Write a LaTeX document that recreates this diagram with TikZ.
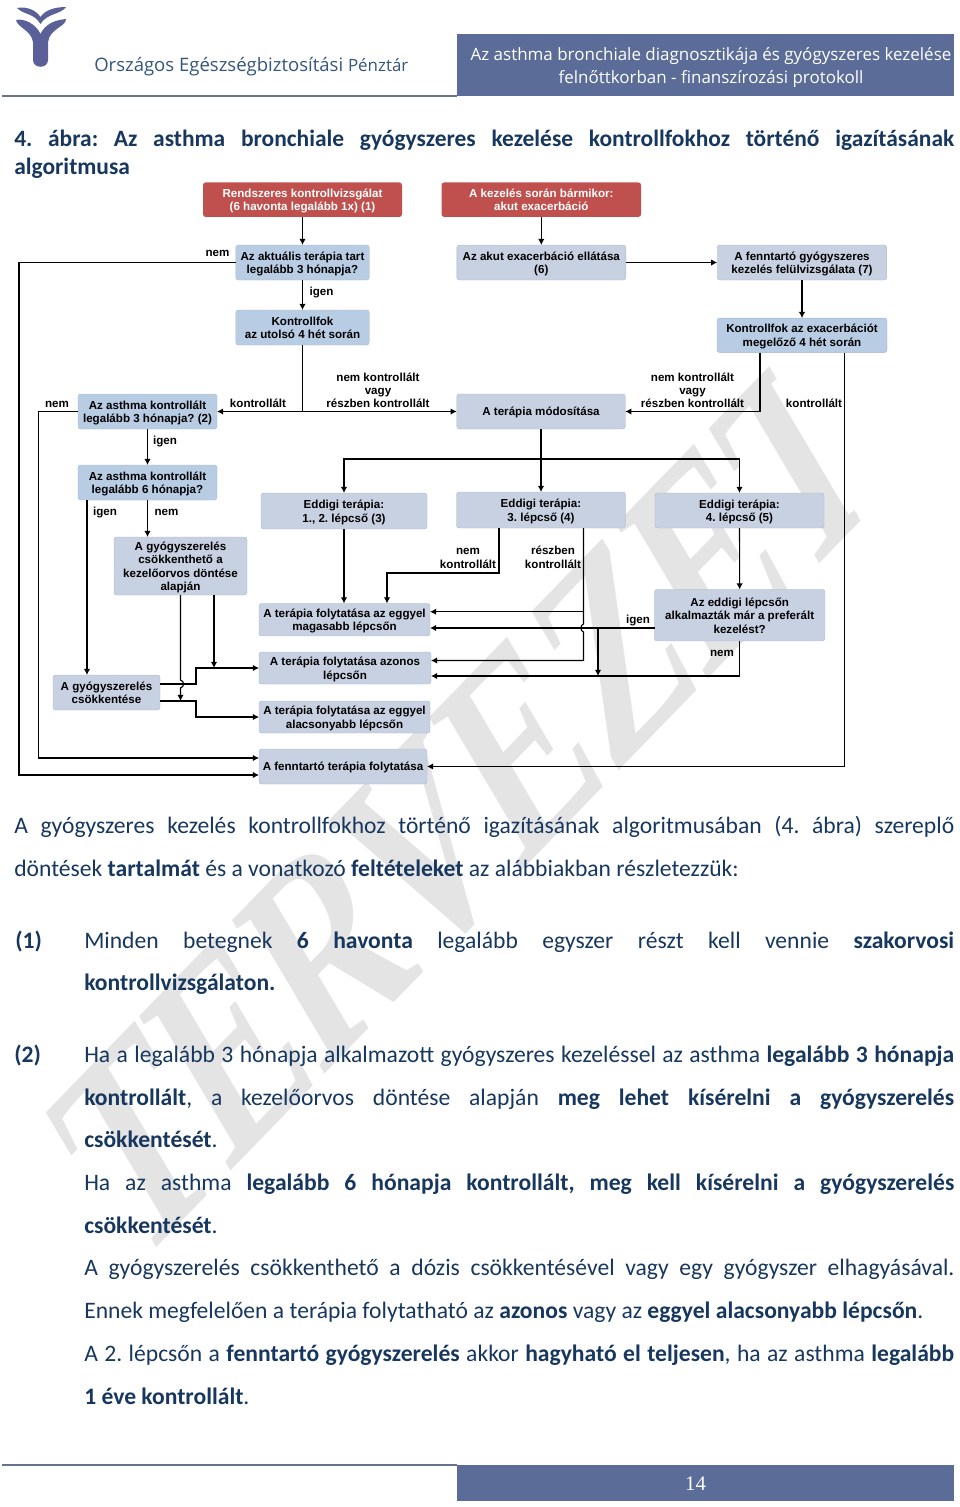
\documentclass[tikz,border=0pt]{standalone}
\usepackage{fontspec}
\setmainfont{Carlito}
\newfontfamily\flowfont{Liberation Sans}
\newfontfamily\headfont{Open Sans}
\newfontfamily\markfont{Liberation Serif}
\usepackage{xcolor}
\usetikzlibrary{arrows.meta,positioning}
\definecolor{redbox}{HTML}{C0504D}
\definecolor{bluebox}{HTML}{B8CCE4}
\definecolor{greybox}{HTML}{C8D1E2}
\definecolor{edgebox}{HTML}{A9B7CE}
\definecolor{navy}{HTML}{17375E}
\definecolor{orgblue}{HTML}{34557F}
\definecolor{banner}{HTML}{5A6C97}
\definecolor{logoblue}{HTML}{5C6099}
\definecolor{markgrey}{HTML}{E4E4E4}
\newcommand{\jline}[2]{\makebox[\dimexpr #1pt*3/4\relax][s]{#2}}
\newcommand{\ts}{\rule{0pt}{9.1pt}}
\frenchspacing
\tikzset{
  size/.style 2 args={minimum width=#1*0.75pt, minimum height=#2*0.75pt},
  flow/.style={rounded corners=2pt, align=center, inner sep=0pt, outer sep=0pt, text=black,
    font=\flowfont\bfseries\fontsize{8.7}{10.1}\selectfont,
    execute at begin node={\rule{0pt}{8.7pt}}, execute at end node={\rule[-2.5pt]{0pt}{2.5pt}}},
  redstep/.style={flow, fill=redbox, text=white},
  bluestep/.style={flow, fill=bluebox, draw=edgebox, line width=0.3pt},
  greystep/.style={flow, fill=greybox, draw=edgebox, line width=0.3pt},
  tag/.style={align=center, inner sep=0pt, font=\flowfont\bfseries\fontsize{8.7}{10}\selectfont,
    execute at begin node={\rule{0pt}{9.7pt}}, execute at end node={\rule[-2.5pt]{0pt}{2.5pt}}},
  line/.style={-{Latex[length=4.6pt,width=4.8pt]}, line width=0.85pt},
  textline/.style={anchor=base west, inner sep=0pt, text=navy, font=\fontsize{17.7}{20}\selectfont}
}
\begin{document}
\begin{tikzpicture}[x=0.75pt, y=-0.75pt]
\useasboundingbox (0,0) rectangle (960,1507);

% watermark
\begin{scope}[x=0.75pt, y=0.75pt, cm={.788,.813,-.616,1.04,(135,-1270)}]
\clip (-20,-60) rectangle (921,300);
\node (mark) [transform shape, text=markgrey, inner sep=0pt, anchor=base west] at (0,0)
  {\scalebox{0.783}[1]{\markfont\bfseries\fontsize{170}{170}\selectfont TERVEZET}};
\end{scope}

% header
\fill[logoblue] (16,20) .. controls (24,18) and (36,24) .. (40.5,34) .. controls (45,24) and (55,20) .. (66,19)
  .. controls (66,27) and (50,28) .. (48,42) -- (48,60) .. controls (48,69) and (33,69) .. (33,60) -- (33,42)
  .. controls (31,30) and (18,28) .. (16,20) -- cycle;
\fill[logoblue] (17,8) .. controls (26,6) and (36,10) .. (40.5,17) .. controls (45,10) and (55,7) .. (66,7)
  .. controls (60,15) and (47,13) .. (40.5,24) .. controls (34,13) and (24,15) .. (17,8) -- cycle;
\node (orgname) [anchor=base west, inner sep=0pt, text=orgblue, font=\headfont\fontsize{13.9}{15}\selectfont] at (94,71.5)
  {Országos Egészségbiztosítási {\fontsize{12.7}{15}\selectfont Pénztár}};
\fill[banner] (457,34) rectangle (954,96);
\draw[banner!70!gray, line width=0.8pt] (2,96) -- (457,96);
\node (doctitle) [align=center, inner sep=0pt, text=white, font=\headfont\fontsize{12.73}{17.4}\selectfont] at (711,67.5)
  {Az asthma bronchiale diagnosztikája és gyógyszeres kezelése\\felnőttkorban - finanszírozási protokoll};

% title
\node (title1) [textline, font=\bfseries\fontsize{17.6}{20}\selectfont] at (14,146)
  {\jline{940}{4. ábra: Az asthma bronchiale gyógyszeres kezelése kontrollfokhoz történő igazításának}};
\node (title2) [textline, font=\bfseries\fontsize{17.6}{20}\selectfont] at (14,174.5) {algoritmusa};

% flowchart boxes
\node (rendszeres) [redstep, size={199}{34.5}] at (302.5,199.7) {\ts Rendszeres kontrollvizsgálat\\(6 havonta legalább 1x) (1)};
\node (akut) [redstep, size={199.5}{34.5}] at (541.3,199.7) {\ts A kezelés során bármikor:\\akut exacerbáció};
\node (aktualis) [bluestep, size={133.5}{35}] at (302.5,262.5) {\ts Az aktuális terápia tart\\legalább 3 hónapja?};
\node (kontrollfok) [bluestep, size={133.5}{35}] at (302.5,327.5) {\ts Kontrollfok\\az utolsó 4 hét során};
\node (ellatas) [greystep, size={169}{35}] at (541.3,262.5) {\ts Az akut exacerbáció ellátása\\(6)};
\node (felulvizsg) [greystep, size={169.5}{35}] at (802,262.5) {\ts A fenntartó gyógyszeres\\kezelés felülvizsgálata (7)};
\node (kontrollexac) [bluestep, size={170}{34.5}] at (802,335.3) {\ts Kontrollfok az exacerbációt\\megelőző 4 hét során};
\node (asthmaharom) [bluestep, size={139}{35}] at (147.5,411.5) {\ts Az asthma kontrollált\\legalább 3 hónapja? (2)};
\node (modositas) [greystep, size={168.5}{35}] at (541,411.5) {A terápia módosítása};
\node (asthmahat) [bluestep, size={139}{35}] at (147.5,482.5) {\ts Az asthma kontrollált\\legalább 6 hónapja?};
\node (eddig1) [greystep, size={166}{36}] at (344,511) {\ts Eddigi terápia:\\1., 2. lépcső (3)};
\node (eddig2) [greystep, size={169}{36}] at (541,510) {\ts Eddigi terápia:\\3. lépcső (4)};
\node (eddig3) [greystep, size={169}{35}] at (739.5,510.5) {\ts Eddigi terápia:\\4. lépcső (5)};
\node (csokkentheto) [greystep, size={133}{58}] at (180.5,566) {\ts A gyógyszerelés\\csökkenthető a\\kezelőorvos döntése\\alapján};
\node (preferalt) [greystep, size={170.5}{51.5}] at (739.7,615.2) {\ts Az eddigi lépcsőn\\alkalmazták már a preferált\\kezelést?};
\node (magasabb) [greystep, size={171}{32.5}] at (344.5,619.7) {\ts A terápia folytatása az eggyel\\magasabb lépcsőn};
\node (azonos) [greystep, size={172}{32}] at (345,668) {\ts A terápia folytatása azonos\\lépcsőn};
\node (gycsokk) [greystep, size={107}{35}] at (106.5,692.5) {\ts A gyógyszerelés\\csökkentése};
\node (alacsonyabb) [greystep, size={171}{32}] at (344.5,717) {\ts A terápia folytatása az eggyel\\alacsonyabb lépcsőn};
\node (fenntarto) [greystep, size={168}{35}] at (343,766.5) {A fenntartó terápia folytatása};

% labels
\node (tnem1) [tag] at (217.5,252) {nem};
\node (tigen1) [tag] at (321.5,291) {igen};
\node (tnem2) [tag] at (57,403) {nem};
\node (tkontr1) [tag] at (258,403) {kontrollált};
\node (tvagy1) [tag] at (378,390) {\ts nem kontrollált\\vagy\\részben kontrollált};
\node (tvagy2) [tag] at (692.5,390) {\ts nem kontrollált\\vagy\\részben kontrollált};
\node (tkontr2) [tag] at (814,403) {kontrollált};
\node (tigen2) [tag] at (165,440) {igen};
\node (tigen3) [tag] at (105,511) {igen};
\node (tnem3) [tag] at (166.5,511) {nem};
\node (tnemk) [tag] at (468,557) {\ts nem\\kontrollált};
\node (tresz) [tag] at (553,557) {\ts részben\\kontrollált};
\node (tigen4) [tag] at (638,618.5) {igen};
\node (tnem4) [tag] at (722,651.5) {nem};

% free ends
\coordinate (exacnem) at (760,352.5);
\coordinate (exackontr) at (844.5,352.5);
\coordinate (farleft) at (19,775);
\coordinate (nearleft) at (38.5,758);
\coordinate (hatigen) at (87,500);
\coordinate (gyfelso) at (160,684);
\coordinate (gyalso) at (160,701);
\coordinate (csokkjobb) at (214,595);
\coordinate (osztas) at (541,459);
\coordinate (nemkontr) at (499,528);
\coordinate (magfelul) at (387,603.5);
\coordinate (reszben) at (583.5,528);
\coordinate (magjobb) at (430,611.7);
\coordinate (azjobb) at (431,660.5);
\coordinate (prefigen) at (654.5,628);
\coordinate (magalso) at (430,628);
\coordinate (agazas) at (598,628);
\coordinate (azalso) at (431,676);

% connectors
\draw[line] (rendszeres) -- (aktualis);
\draw[line] (aktualis) -- (kontrollfok);
\draw[line] (akut) -- (ellatas);
\draw[line] (ellatas) -- (felulvizsg);
\draw[line] (felulvizsg) -- (kontrollexac);
\draw[line] (kontrollfok.south) |- (asthmaharom.east);
\draw[line] (kontrollfok.south) |- (modositas.west);
\draw[line] (exacnem) |- (modositas.east);
\draw[line] (exackontr) |- (fenntarto.east);
\draw[line] (aktualis.west) -| (farleft) -- (farleft -| fenntarto.west);
\draw[line] (asthmaharom.west) -| (nearleft) -- (nearleft -| fenntarto.west);
\draw[line] (asthmaharom) -- (asthmahat);
\draw[line] (asthmahat.south) -- (asthmahat.south |- csokkentheto.north);
\draw[line] (hatigen) -- (hatigen |- gycsokk.north);
\draw[line] (gyfelso) -- ++(36,0) |- (azonos.west);
\draw[line] (gyalso) -- ++(36,0) |- (alacsonyabb.west);
\draw[line] (csokkjobb) -- (csokkjobb |- azonos.west);
\draw[line] (csokkentheto.south) -- (180.5,680) .. controls (184.5,681) and (184.5,687) .. (180.5,688) -- (csokkentheto.south |- gyalso);
\draw[line] (eddig1.south) -- (eddig1.south |- magasabb.north);
\draw[line] (modositas.south) -- (eddig2.north);
\draw[line] (osztas) -| (eddig1.north);
\draw[line] (osztas) -| (eddig3.north);
\draw[line] (nemkontr) -- ++(0,45) -| (magfelul);
\draw[line] (reszben) -- (583.5,624) .. controls (580,625) and (580,631) .. (583.5,632) -- (583.5,660.5) -- (azjobb);
\draw[line] (reszben |- magjobb) -- (magjobb);
\draw[line] (prefigen) -- (magalso);
\draw[line] (agazas) -- (agazas |- azalso);
\draw[line] (preferalt.south) |- (azalso);
\draw[line] (eddig3) -- (preferalt);

% text below the chart
\node (sor1) [textline] at (14,833) {\jline{940}{A gyógyszeres kezelés kontrollfokhoz történő igazításának algoritmusában (4. ábra) szereplő}};
\node (sor2) [textline] at (14,876) {döntések \textbf{tartalmát} és a vonatkozó \textbf{feltételeket} az alábbiakban részletezzük:};
\node (num1) [textline] at (15,948) {\textbf{(1)}};
\node (sor3) [textline] at (84,948) {\jline{870}{Minden betegnek \textbf{6 havonta} legalább egyszer részt kell vennie \textbf{szakorvosi}}};
\node (sor4) [textline] at (84,990.5) {\textbf{kontrollvizsgálaton.}};
\node (num2) [textline] at (14,1062.5) {\textbf{(2)}};
\node (sor5) [textline] at (84,1062.5) {\jline{870}{Ha a legalább 3 hónapja alkalmazott gyógyszeres kezeléssel az asthma \textbf{legalább 3 hónapja}}};
\node (sor6) [textline] at (84,1105) {\jline{870}{\textbf{kontrollált}, a kezelőorvos döntése alapján \textbf{meg lehet kísérelni a gyógyszerelés}}};
\node (sor7) [textline] at (84,1147.5) {\textbf{csökkentését}.};
\node (sor8) [textline] at (84,1190) {\jline{870}{Ha az asthma \textbf{legalább 6 hónapja kontrollált, meg kell kísérelni a gyógyszerelés}}};
\node (sor9) [textline] at (84,1233) {\textbf{csökkentését}.};
\node (sor10) [textline] at (84,1275.5) {\jline{870}{A gyógyszerelés csökkenthető a dózis csökkentésével vagy egy gyógyszer elhagyásával.}};
\node (sor11) [textline] at (84,1318.5) {Ennek megfelelően a terápia folytatható az \textbf{azonos} vagy az \textbf{eggyel alacsonyabb lépcsőn}.};
\node (sor12) [textline] at (84,1361) {\jline{870}{A 2. lépcsőn a \textbf{fenntartó gyógyszerelés} akkor \textbf{hagyható el teljesen}, ha az asthma \textbf{legalább}}};
\node (sor13) [textline] at (84,1404) {\textbf{1 éve kontrollált}.};

% footer
\draw[banner!70!gray, line width=0.8pt] (2,1465) -- (457,1465);
\fill[banner] (457,1465) rectangle (954,1501);
\node (oldal) [text=white, inner sep=0pt, font=\markfont\fontsize{15.5}{18}\selectfont] at (695.5,1484) {14};
\end{tikzpicture}
\end{document}
